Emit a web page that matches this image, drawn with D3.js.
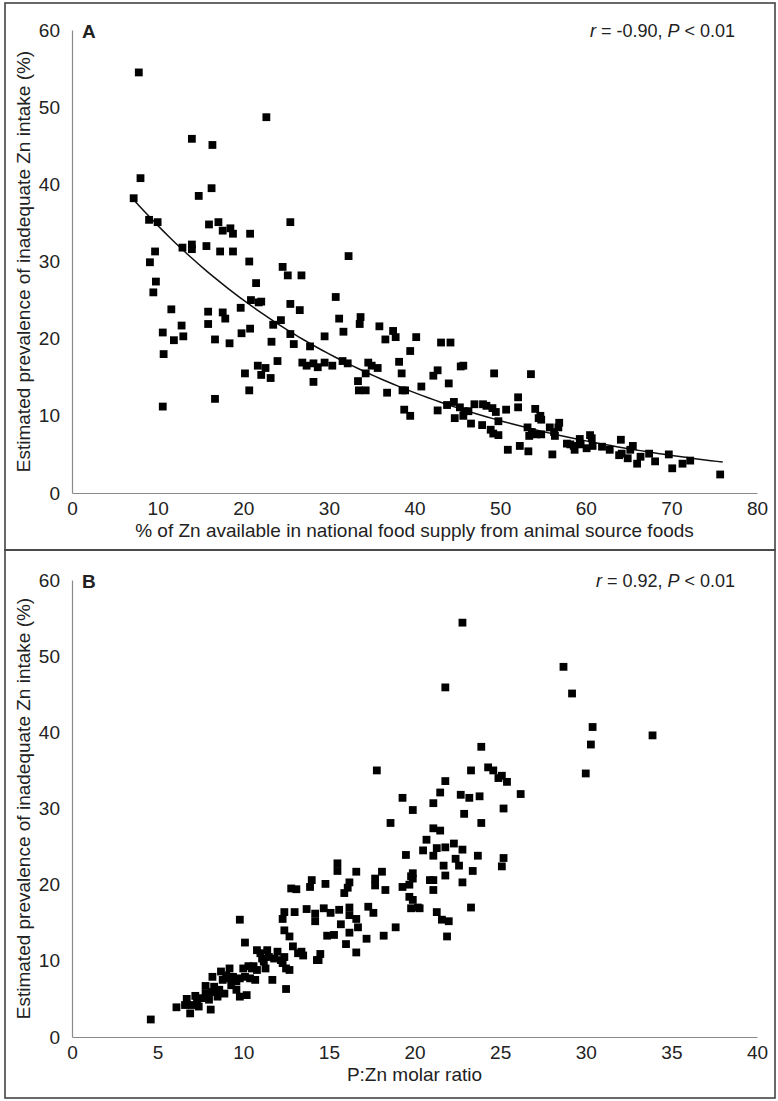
<!DOCTYPE html>
<html><head><meta charset="utf-8">
<script src="https://cdn.jsdelivr.net/npm/d3@7"></script>
<style>
body{margin:0;background:#fff;}
text{font-family:"Liberation Sans",Arial,sans-serif;fill:#222;}
</style></head><body>
<svg id="c" width="778" height="1101"></svg>
<script>
// ---------- DATA ----------
const xTicksA = [0,10,20,30,40,50,60,70,80];
const xTicksB = [0,5,10,15,20,25,30,35,40];
const yTicks = [0,10,20,30,40,50,60];
const xTitleA = "% of Zn available in national food supply from animal source foods";
const xTitleB = "P:Zn molar ratio";
const yTitle = "Estimated prevalence of inadequate Zn intake (%)";
// Panel A: % Zn from animal source foods vs prevalence
const pointsA = [
[7.8,54.5],[22.7,48.7],[14.0,45.9],[16.4,45.1],[8.0,40.8],[16.3,39.5],[14.8,38.5],[7.2,38.2],[9.0,35.4],[10.0,35.1],[16.0,34.8],[17.1,35.1],[17.6,34.0],[18.5,34.3],[18.8,33.6],[20.8,33.6],[25.5,35.1],[12.9,31.8],[14.0,32.2],[14.0,31.6],[15.7,32.0],[17.3,31.3],[18.8,31.3],[9.7,31.3],[20.7,30.0],[9.1,29.9],[24.6,29.3],[25.2,28.2],[26.8,28.2],[9.8,27.4],[21.5,27.2],[9.5,26.0],
[20.9,25.0],[21.8,24.7],[22.1,24.8],[25.5,24.5],[26.6,23.7],[11.6,23.8],[15.9,23.5],[17.6,23.4],[17.9,22.6],[19.7,24.0],[24.4,22.4],[23.5,21.8],[20.8,21.3],[19.8,20.7],[15.9,21.9],[12.8,21.7],[10.6,20.8],[13.0,20.3],[11.9,19.8],[16.7,19.9],[18.4,19.4],[23.3,19.6],[25.5,20.6],[25.9,19.3],[27.8,19.0],[10.7,18.0],[24.0,17.1],[26.9,16.9],[27.4,16.5],[28.2,16.8],[28.7,16.3],[21.7,16.5],[22.6,16.2],[22.1,15.3],[23.2,14.9],[20.2,15.5],[28.2,14.4],[20.7,13.3],[16.7,12.2],[10.6,11.2],
[32.3,30.7],[30.8,25.4],[31.2,22.6],[31.7,20.9],[33.7,22.8],[33.6,21.9],[29.5,20.3],[35.9,21.6],[37.5,21.0],[36.6,19.9],[37.8,20.2],[40.2,20.2],[39.5,18.4],[43.1,19.5],[44.2,19.5],[29.5,16.9],[30.4,16.5],[31.6,17.1],[32.2,16.8],[33.4,14.5],[33.5,13.3],[34.3,13.3],[34.6,16.9],[34.3,15.5],[35.0,16.5],[35.7,16.2],[36.8,13.0],[38.2,17.0],[38.5,15.5],[38.6,13.3],[38.9,13.3],[38.8,10.8],[39.5,10.0],[40.8,13.8],[42.2,15.2],[42.7,15.9],[42.7,10.7],[44.0,14.2],[45.4,16.4],[45.7,16.5],[49.3,15.5],[53.6,15.4],[43.8,11.4],[44.6,11.8],[44.7,9.7],[45.3,11.1],[45.8,10.6],[45.7,10.0],[46.3,10.6],[47.0,11.5],[46.6,9.0],[48.0,11.5],[48.4,11.3],[49.1,11.0],[49.5,10.5],[47.9,8.8],[48.9,8.2],[49.2,7.7],[49.8,7.5],[49.8,9.3],[50.7,10.8],[52.1,12.4],[52.1,11.1],[50.9,5.6],[52.3,6.1],[53.3,5.4],[53.2,8.5],[53.7,7.9],[54.2,7.6],[54.1,10.9],[54.5,9.7],
[54.7,10.0],[54.8,9.5],[53.4,7.4],[54.8,7.6],[55.8,8.5],[56.3,7.9],[56.4,7.4],[56.8,8.5],[56.9,9.1],[56.1,5.0],[57.8,6.4],[58.2,6.3],[58.7,5.6],[58.6,6.1],[59.3,7.0],[59.4,6.3],[60.1,5.8],[60.5,7.5],[60.7,7.1],[60.8,6.1],[61.9,6.0],[62.8,5.6],[64.1,6.9],[63.9,4.9],[64.2,5.1],[64.9,4.5],[65.2,5.6],[65.5,6.1],[66.0,3.8],[66.4,4.7],[67.4,5.1],[68.1,4.1],[69.7,5.0],[70.1,3.2],[71.3,3.8],[72.2,4.2],[75.7,2.4]
];
// exponential trend line of panel A (y = a*e^(b*x)), range of x
const trendA = {a: 48.1, b: -0.0327, x0: 7.2, x1: 76};
// Panel B: P:Zn molar ratio vs prevalence
const pointsB = [
[22.8,54.4],[21.8,45.9],[28.7,48.6],[29.2,45.1],[30.4,40.7],[30.3,38.4],[33.9,39.6],[23.9,38.1],[30.0,34.6],
[23.3,35.0],[24.3,35.4],[24.6,35.0],[24.9,34.0],[25.1,34.3],[25.4,33.5],[26.2,31.9],[21.8,33.6],[21.5,32.1],[21.1,30.7],[22.7,31.8],[23.2,31.4],[23.8,31.6],[25.2,30.0],[22.9,29.3],[23.9,28.1],[21.1,27.4],[21.5,27.1],[20.7,25.9],[20.5,24.5],[21.3,24.8],[21.1,23.8],[21.8,24.9],[22.3,25.4],[22.8,24.6],[22.4,23.4],[22.6,22.5],[21.7,22.5],[23.7,23.8],[25.2,23.5],[25.1,22.4],[23.4,21.8],[21.8,21.2],[20.9,20.6],[21.1,20.6],[22.8,20.3],[21.1,19.3],[20.3,16.9],[21.3,16.4],[23.3,17.0],[21.6,15.4],[22.0,15.2],[21.9,13.2],
[17.8,35.0],[19.3,31.4],[19.9,29.8],[18.6,28.1],[19.5,23.9],[19.9,21.5],[19.8,21.1],[19.9,20.8],[19.7,20.0],[19.3,19.7],[19.7,18.4],[19.9,18.0],[19.8,16.9],[20.2,17.0],
[15.5,22.8],[15.5,21.8],[16.6,21.7],[18.1,21.7],[17.7,20.8],[17.7,19.9],[18.3,19.3],[16.2,20.3],[15.9,18.9],[16.1,19.6],[14.0,20.6],[13.9,19.7],[14.8,20.1],[12.8,19.5],[13.1,19.4],[12.4,16.4],[12.3,15.5],[13.0,16.4],[13.7,16.8],[14.2,16.2],[14.2,15.2],[14.7,16.9],[15.1,16.3],[15.6,16.7],[16.2,17.0],[16.2,16.0],[16.6,15.5],[16.7,14.4],[17.3,17.1],[17.6,16.3],[15.7,14.8],[16.2,13.7],[14.9,13.3],[15.3,13.4],[16.0,12.2],[17.2,12.9],[18.2,13.3],[18.9,14.4],[16.6,11.1],[12.4,14.0],[12.7,13.2],[14.5,10.9],[14.4,10.1],[12.9,11.9],[13.2,11.0],[13.5,10.7],
[4.6,2.3],[6.1,3.9],[6.9,3.1],[6.7,5.0],[6.6,4.2],[7.0,4.2],[7.3,4.6],[7.4,4.0],[7.2,5.4],[8.1,3.6],[7.6,5.1],[7.8,5.7],[8.0,4.9],[8.2,5.9],[7.8,6.7],[8.2,7.9],[8.3,6.6],[8.5,5.3],[8.6,6.2],[8.9,5.7],[8.7,8.6],[9.0,8.1],[9.2,7.7],[9.3,6.8],[9.6,7.3],[9.6,6.2],[8.8,7.5],[9.2,9.0],[9.4,7.9],[9.8,5.3],[10.2,5.5],[10.0,9.0],[10.3,9.3],[10.5,9.0],[9.8,7.7],[10.1,7.9],[10.4,7.7],[10.7,7.5],[10.6,9.3],[10.8,8.8],[10.1,12.4],[9.8,15.4],[10.8,11.4],[11.0,11.0],[11.4,11.4],[11.1,10.3],[11.3,9.0],[11.2,9.9],[11.7,7.5],[11.5,10.5],[11.8,10.3],[12.0,11.2],[12.2,10.1],[12.5,6.3],[12.3,9.7],[12.5,9.0],[12.7,8.8],[12.4,10.5],[13.4,11.2],[14.3,10.1]
];
const statA = {r: "-0.90", p: "0.01"};
const statB = {r: "0.92", p: "0.01"};

// ---------- DRAW ----------
const svg = d3.select("#c");
const FONT = 19;

function panel(cfg){
  const g = svg.append("g");
  // frame
  g.append("rect").attr("x",cfg.frame[0]).attr("y",cfg.frame[1])
   .attr("width",cfg.frame[2]).attr("height",cfg.frame[3])
   .attr("fill","none").attr("stroke","#444").attr("stroke-width",1.6);
  const x = d3.scaleLinear().domain([cfg.xTicks[0], cfg.xTicks[cfg.xTicks.length-1]]).range([72,757]);
  const y = d3.scaleLinear().domain([0,60]).range([cfg.y0, cfg.y1]);
  const xAxis = g.append("g").attr("transform",`translate(0,${cfg.y0})`)
    .call(d3.axisBottom(x).tickValues(cfg.xTicks).tickSize(0).tickPadding(9).tickFormat(d3.format("d")));
  const yAxis = g.append("g").attr("transform",`translate(72,0)`)
    .call(d3.axisLeft(y).tickValues(yTicks).tickSize(0).tickPadding(12).tickFormat(d3.format("d")));
  [xAxis,yAxis].forEach(a=>{
    a.select(".domain").attr("stroke","#8a8a8a").attr("stroke-width",1.2);
    a.selectAll("text").attr("font-size",FONT).attr("font-family","Liberation Sans, Arial, sans-serif").attr("fill","#222");
  });
  // titles
  g.append("text").attr("x",(72+757)/2).attr("y",cfg.y0+44).attr("text-anchor","middle")
   .attr("font-size",FONT).text(cfg.xTitle);
  g.append("text").attr("transform",`translate(30,${(cfg.y0+cfg.y1)/2}) rotate(-90)`)
   .attr("text-anchor","middle").attr("font-size",FONT).text(yTitle);
  // panel letter
  g.append("text").attr("x",82).attr("y",cfg.y1+8).attr("font-size",19).attr("font-weight","bold").text(cfg.letter);
  // stat
  const st = g.append("text").attr("x",735).attr("y",cfg.y1+7).attr("text-anchor","end").attr("font-size",18);
  st.append("tspan").attr("font-style","italic").text("r");
  st.append("tspan").text(` = ${cfg.stat.r},  `);
  st.append("tspan").attr("font-style","italic").text("P");
  st.append("tspan").text(` < ${cfg.stat.p}`);
  // trend
  if(cfg.trend){
    const t = cfg.trend;
    const xs = d3.range(0,101).map(i=>t.x0+(t.x1-t.x0)*i/100);
    g.append("path").datum(xs)
      .attr("d", d3.line().x(d=>x(d)).y(d=>y(t.a*Math.exp(t.b*d))))
      .attr("fill","none").attr("stroke","#111").attr("stroke-width",1.5);
  }
  const s = 7.8;
  g.append("g").selectAll("rect").data(cfg.points).join("rect")
    .attr("x",d=>x(d[0])-s/2).attr("y",d=>y(d[1])-s/2)
    .attr("width",s).attr("height",s).attr("fill","#000");
}

panel({frame:[5,3,770,547], xTicks:xTicksA, y0:493, y1:30, xTitle:xTitleA, letter:"A", stat:statA, points:pointsA, trend:trendA});
panel({frame:[5,550,770,548], xTicks:xTicksB, y0:1037, y1:580, xTitle:xTitleB, letter:"B", stat:statB, points:pointsB});
</script>
</body></html>
